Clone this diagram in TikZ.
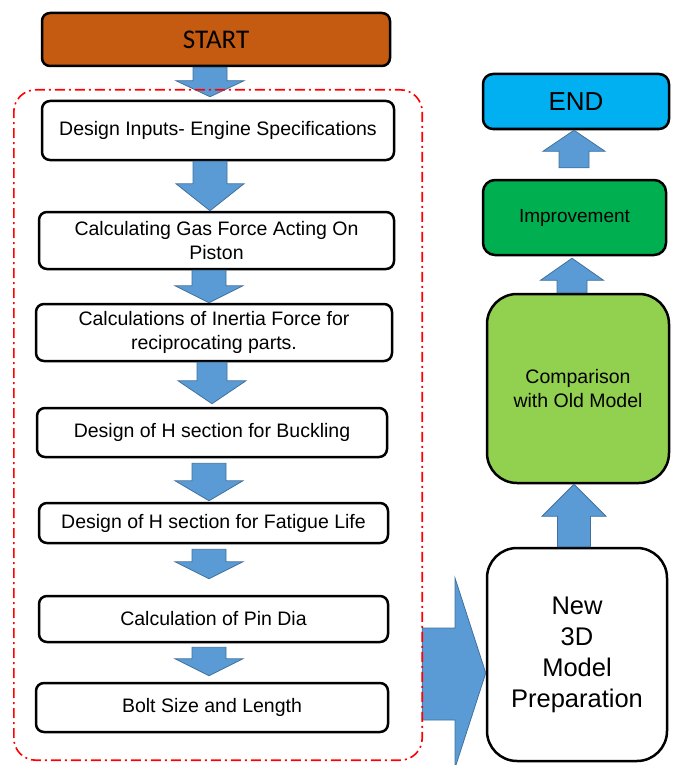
\documentclass[tikz,border=0pt]{standalone}
\usepackage{fontspec}
\setmainfont{Liberation Sans}
\newfontfamily\calibfont{Carlito}
\usetikzlibrary{calc}
\definecolor{startc}{HTML}{C55A11}
\definecolor{endc}{HTML}{00B0F0}
\definecolor{impc}{HTML}{00B050}
\definecolor{cmpc}{HTML}{92D050}
\definecolor{arrowc}{HTML}{5B9BD5}
\definecolor{arrowedge}{HTML}{41719C}
\tikzset{
  box/.style={draw=black, line width=2.5pt, rounded corners=8pt, fill=white, align=center,
    inner sep=0pt, font=\fontsize{19.5}{24.5}\selectfont},
  barrow/.style={fill=arrowc, draw=arrowedge, line width=0.8pt, line join=miter},
  grpline/.style={draw=red, line width=1.6pt, dash pattern=on 10pt off 4pt on 2pt off 4pt},
}
% #1 from, #2 to, #3 x, #4 top offset, #5 tip gap, #6 head length, #7 shaft half, #8 head half
\newcommand\blockdown[8]{%
  \path (#3,0 |- #1.south) ++(0,#4) coordinate (bs);
  \path (#3,0 |- #2.north) ++(0,-#5) coordinate (bt);
  \draw[barrow] ($(bs)+(-#7,0)$) -- ($(bs)+(#7,0)$) -- ($(bt)+(#7,-#6)$) -- ($(bt)+(#8,-#6)$)
    -- (bt) -- ($(bt)+(-#8,-#6)$) -- ($(bt)+(-#7,-#6)$) -- cycle;}
\newcommand\blockup[8]{%
  \path (#3,0 |- #1.north) ++(0,-#4) coordinate (bs);
  \path (#3,0 |- #2.south) ++(0,#5) coordinate (bt);
  \draw[barrow] ($(bs)+(-#7,0)$) -- ($(bs)+(#7,0)$) -- ($(bt)+(#7,#6)$) -- ($(bt)+(#8,#6)$)
    -- (bt) -- ($(bt)+(-#8,#6)$) -- ($(bt)+(-#7,#6)$) -- cycle;}
\begin{document}
\begin{tikzpicture}[x=1pt, y=-1pt]
\useasboundingbox (0,0) rectangle (675,765);
% left column
\node[box, fill=startc, minimum width=348, minimum height=53, font=\calibfont\fontsize{27}{30}\selectfont]
  (start) at (216,39.5) {START};
\node[box, minimum width=352, minimum height=59] (d1) at (218,130.5) {Design Inputs- Engine Specifications};
\node[box, minimum width=355, minimum height=57] (d2) at (216.5,240.5) {Calculating Gas Force Acting On\\Piston};
\node[box, minimum width=356, minimum height=57] (d3) at (214,332.5) {Calculations of Inertia Force for\\reciprocating parts.};
\node[box, minimum width=350, minimum height=49] (d4) at (212,432.5) {Design of H section for Buckling};
\node[box, minimum width=349, minimum height=40] (d5) at (213.5,523) {Design of H section for Fatigue Life};
\node[box, minimum width=349, minimum height=46] (d6) at (213.5,619) {Calculation of Pin Dia};
\node[box, minimum width=352, minimum height=49] (d7) at (212,707.5) {Bolt Size and Length};
% right column
\node[box, fill=endc, rounded corners=10pt, minimum width=186, minimum height=55,
  font=\fontsize{26}{30}\selectfont] (endn) at (576,101.5) {END};
\node[box, fill=impc, rounded corners=12pt, minimum width=183, minimum height=75,
  font=\fontsize{19}{23}\selectfont] (imp) at (574.5,217.5) {Improvement};
\node[box, fill=cmpc, rounded corners=30pt, minimum width=182, minimum height=189]
  (cmp) at (578,388.5) {Comparison\\with Old Model};
\node[box, rounded corners=30pt, minimum width=180, minimum height=213,
  font=\fontsize{25.5}{31}\selectfont] (newm) at (577,654.5) {New\\3D\\Model\\Preparation};
% group frame (named, drawn after the big arrow)
\node[minimum width=408, minimum height=670, inner sep=0pt] (grp) at (218,425) {};
% down arrows
\blockdown{start}{d1}{210}{0}{3}{16}{17}{34}
\blockdown{d1}{d2}{210}{0}{0}{27}{17}{34}
\blockdown{d2}{d3}{209}{0}{0}{17}{17}{34}
\blockdown{d3}{d4}{212}{0}{3}{23}{15}{34}
\blockdown{d4}{d5}{209}{5}{1}{20}{17}{34}
\blockdown{d5}{d6}{209}{5}{16}{17}{17}{34}
\blockdown{d6}{d7}{209}{4}{6}{17}{17}{34}
% up arrows
\blockup{imp}{endn}{574}{11}{0}{21}{15}{31}
\blockup{cmp}{imp}{572}{0}{2}{22}{15}{31.5}
\blockup{newm}{cmp}{574}{0}{0}{32}{16.5}{32}
% big arrow to new model
\coordinate (tipn) at (newm.west |- 0,673);
\draw[barrow] (grp.east |- 0,628) -- (455,628) -- (455,578) -- (tipn) -- (455,768) -- (455,720)
  -- (grp.east |- 0,720) -- cycle;
\draw[grpline, rounded corners=22pt] (grp.south west) rectangle (grp.north east);
\end{tikzpicture}
\end{document}
